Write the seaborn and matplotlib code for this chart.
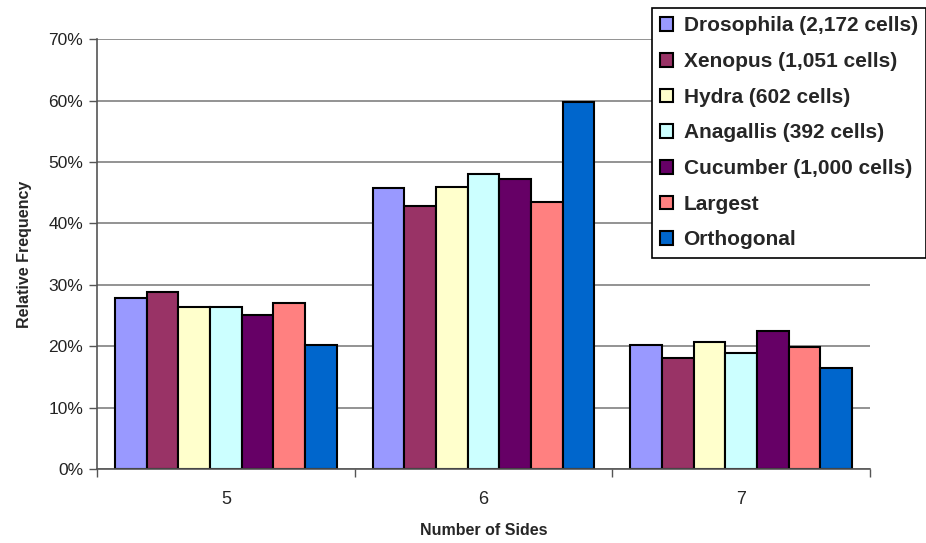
import numpy as np
import pandas as pd
import matplotlib
matplotlib.use("Agg")
import matplotlib.pyplot as plt
import seaborn as sns

# data (percent)
sides = ["5", "6", "7"]
series = ["Drosophila (2,172 cells)", "Xenopus (1,051 cells)", "Hydra (602 cells)",
          "Anagallis (392 cells)", "Cucumber (1,000 cells)", "Largest", "Orthogonal"]
drosophila = [27.9, 45.8, 20.2]
xenopus = [28.8, 42.8, 18.1]
hydra = [26.3, 45.9, 20.7]
anagallis = [26.3, 48.0, 18.9]
cucumber = [25.1, 47.3, 22.4]
largest = [27.1, 43.5, 19.8]
orthogonal = [20.2, 59.8, 16.5]
colors = ["#9999FF", "#993366", "#FFFFCC", "#CCFFFF", "#660066", "#FF8080", "#0066CC"]

values = [drosophila, xenopus, hydra, anagallis, cucumber, largest, orthogonal]
rows = []
for name, vals in zip(series, values):
    for s, v in zip(sides, vals):
        rows.append({"Sides": s, "Series": name, "Freq": v})
df = pd.DataFrame(rows)

sns.set_style("white")
plt.rcParams['font.family'] = ['Liberation Sans', 'DejaVu Sans']

fig = plt.figure(figsize=(9.26, 5.43), dpi=100)
ax = fig.add_axes([0.1048, 0.1363, 0.8347, 0.7917])

sns.barplot(data=df, x="Sides", y="Freq", hue="Series", palette=colors,
            saturation=1, width=0.86, edgecolor="black", linewidth=1.5, ax=ax,
            legend=True)

ax.set_ylim(0, 70)
ax.set_xlim(-0.5, 2.5)
ax.set_yticks(np.arange(0, 71, 10))
ax.set_yticklabels([f"{v}%" for v in range(0, 71, 10)], fontsize=12.5, color="#222222")
ax.yaxis.grid(True, color="#808080", linewidth=1.2)
ax.set_axisbelow(True)
ax.tick_params(axis="y", length=6, width=1, color="#555555", left=True, pad=4)

ax.set_xticks([0, 1, 2])
ax.set_xticklabels(sides, fontsize=13)
ax.set_xticks([-0.5, 0.5, 1.5, 2.5], minor=True)
ax.tick_params(axis="x", which="major", length=0, pad=16)
ax.tick_params(axis="x", which="minor", length=6, width=1, color="#555555", bottom=True)

for sp in ["top", "right"]:
    ax.spines[sp].set_visible(False)
for sp in ["left", "bottom"]:
    ax.spines[sp].set_color("#555555")
    ax.spines[sp].set_linewidth(1.2)

ax.set_xlabel("Number of Sides", fontsize=11.5, fontweight="bold", labelpad=11,
              family=['Liberation Sans Narrow', 'Liberation Sans'])
ax.set_ylabel("Relative Frequency", fontsize=11.5, fontweight="bold", labelpad=12,
              family=['Liberation Sans Narrow', 'Liberation Sans'])

handles, labels = ax.get_legend_handles_labels()
ax.get_legend().remove()
leg = fig.legend(handles, labels, loc="upper right", bbox_to_anchor=(1.0, 0.985),
                 frameon=True, fancybox=False, edgecolor="black", framealpha=1,
                 prop={"size": 15, "weight": "bold"}, handlelength=0.62,
                 handleheight=0.62, handletextpad=0.5, labelspacing=0.8,
                 borderpad=0.4, borderaxespad=0)
leg.get_frame().set_linewidth(1.2)

fig.savefig("out.png", dpi=100)
